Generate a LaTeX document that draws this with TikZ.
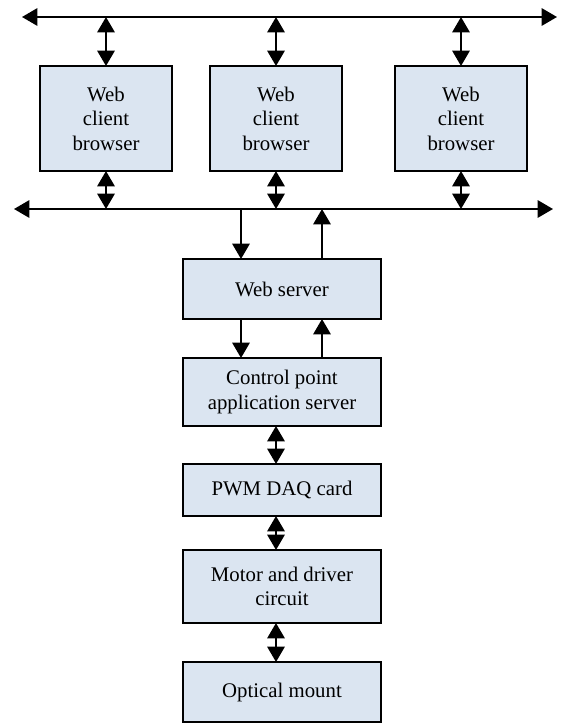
\documentclass[tikz,border=0pt]{standalone}
\usepackage{fontspec}
\setmainfont{Liberation Serif}
\usetikzlibrary{positioning,arrows.meta}
\definecolor{boxBlue}{RGB}{219,229,241}

\begin{document}
\begin{tikzpicture}[x=0.75pt, y=-0.75pt, node distance=28.5pt,
    box/.style={draw, line width=1.2pt, fill=boxBlue, align=center, inner sep=2pt, outer sep=0pt,
      font=\fontsize{15.6}{18.4}\selectfont},
    link/.style={line width=1.5pt, -{Triangle[length=11.5pt,width=13pt]}},
    both/.style={line width=1.5pt, {Triangle[length=11.5pt,width=13pt]}-{Triangle[length=11.5pt,width=13pt]}}]
    \useasboundingbox (0,0) rectangle (560,724);
    % bus ends
    \coordinate (topL) at (22,17);
    \coordinate (topR) at (557,17);
    \coordinate (botL) at (14,209);
    \coordinate (botR) at (553,209);
    % browsers
    \node[box, minimum width=99pt, minimum height=78.75pt] (client1) at (106,118.5) {Web\\client\\browser};
    \node[box, minimum width=99pt, minimum height=78.75pt] (client2) at (276,118.5) {Web\\client\\browser};
    \node[box, minimum width=99pt, minimum height=78.75pt] (client3) at (461,118.5) {Web\\client\\browser};
    % server stack
    \node[box, minimum width=148.5pt, minimum height=45pt] (server) at (282,289) {Web server};
    \node[box, minimum width=148.5pt, minimum height=51pt, below=29.25pt of server] (ctrl) {Control point\\application server};
    \node[box, minimum width=148.5pt, minimum height=39pt, below=of ctrl] (daq) {PWM DAQ card};
    \node[box, minimum width=148.5pt, minimum height=54.75pt, below=25.5pt of daq] (motor) {Motor and driver\\circuit};
    \node[box, minimum width=148.5pt, minimum height=45pt, below=29.25pt of motor] (mount) {Optical mount};
    % buses
    \draw[both] (topL) -- (topR);
    \draw[both] (botL) -- (botR);
    \draw[both] (client1.north |- topL) -- (client1.north);
    \draw[both] (client2.north |- topL) -- (client2.north);
    \draw[both] (client3.north |- topL) -- (client3.north);
    \draw[both] (client1.south) -- (client1.south |- botL);
    \draw[both] (client2.south) -- (client2.south |- botL);
    \draw[both] (client3.south) -- (client3.south |- botL);
    % server links
    \coordinate (reqIn) at ([xshift=-30.75pt]server.north);
    \coordinate (resOut) at ([xshift=30pt]server.north);
    \coordinate (reqDown) at ([xshift=-30.75pt]server.south);
    \coordinate (resUp) at ([xshift=30pt]server.south);
    \draw[link] (reqIn |- botL) -- (reqIn);
    \draw[link] (resOut) -- (resOut |- botL);
    \draw[link] (reqDown) -- (reqDown |- ctrl.north);
    \draw[link] (resUp |- ctrl.north) -- (resUp);
    % lower chain
    \draw[both] ([xshift=-4.5pt]ctrl.south) -- ([xshift=-4.5pt]daq.north);
    \draw[both] ([xshift=-4.5pt]daq.south) -- ([xshift=-4.5pt]motor.north);
    \draw[both] ([xshift=-4.5pt]motor.south) -- ([xshift=-4.5pt]mount.north);
\end{tikzpicture}
\end{document}
